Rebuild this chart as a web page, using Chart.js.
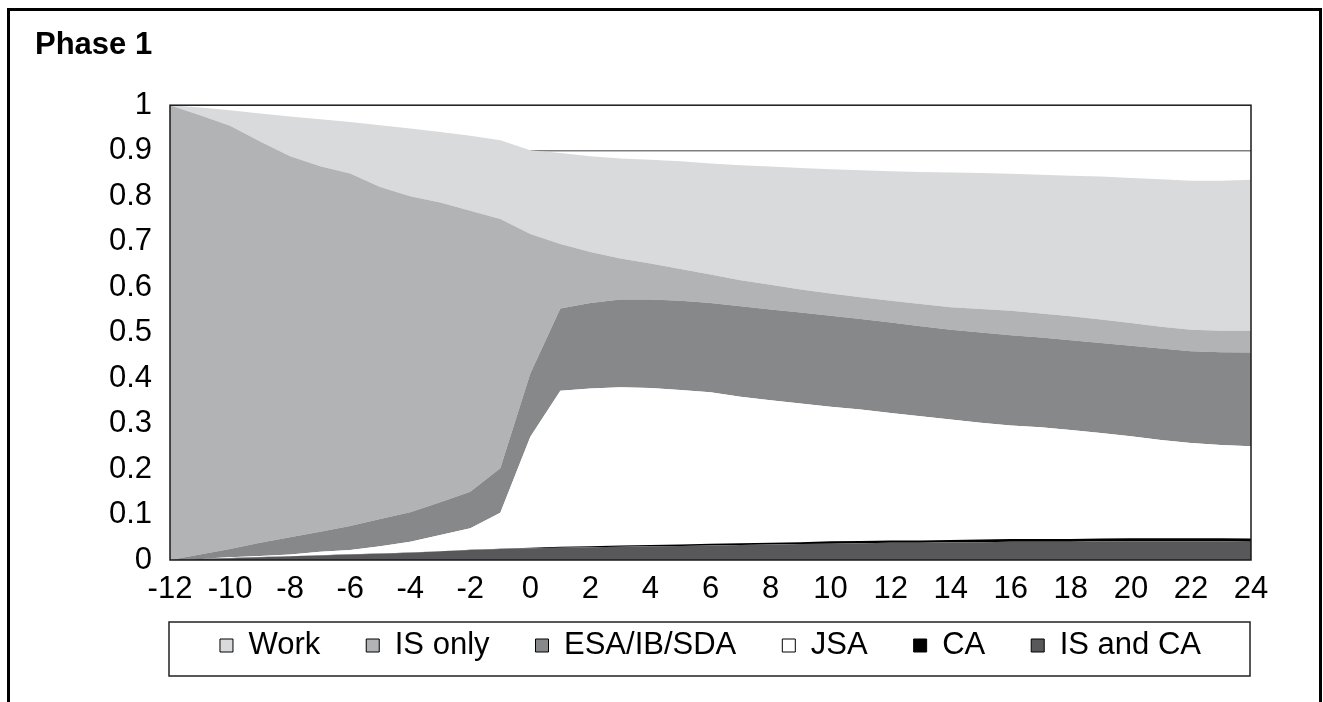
<!DOCTYPE html>
<html>
<head>
<meta charset="utf-8">
<script src="https://cdn.jsdelivr.net/npm/chart.js@4.4.1/dist/chart.umd.min.js"></script>
<style>
  body { margin: 0; background: #fff; overflow: hidden; }
  #frame {
    position: absolute; left: 7px; top: 8px; width: 1315px; height: 740px;
    border: 3px solid #000; box-sizing: border-box;
  }
  #myChart { position: absolute; left: 0; top: 0; }
</style>
</head>
<body>
<div id="frame"></div>
<canvas id="myChart" width="1323" height="702"></canvas>
<script>
// months relative to start of claim
const xLabels = [-12, -11, -10, -9, -8, -7, -6, -5, -4, -3, -2, -1, 0, 1, 2, 3, 4, 5, 6, 7, 8, 9, 10, 11, 12, 13, 14, 15, 16, 17, 18, 19, 20, 21, 22, 23, 24];
const yTicks = [0, 0.1, 0.2, 0.3, 0.4, 0.5, 0.6, 0.7, 0.8, 0.9, 1];

// shares per status (stacked, bottom first)
const isAndCa = [0, 0.002, 0.004, 0.006, 0.008, 0.010, 0.012, 0.014, 0.016, 0.019, 0.022, 0.024,
  0.026, 0.027, 0.028, 0.029, 0.030, 0.031, 0.032, 0.033, 0.034, 0.035, 0.036, 0.037, 0.038,
  0.038, 0.039, 0.039, 0.040, 0.040, 0.040, 0.041, 0.041, 0.041, 0.041, 0.041, 0.040];
const ca = [0, 0.0005, 0.0005, 0.0005, 0.0005, 0.0005, 0.0005, 0.0005, 0.0005, 0.0005, 0.0005, 0.0005,
  0.001, 0.002, 0.002, 0.003, 0.003, 0.003, 0.004, 0.004, 0.004, 0.004, 0.005, 0.005, 0.005,
  0.005, 0.005, 0.006, 0.006, 0.006, 0.006, 0.006, 0.007, 0.007, 0.007, 0.007, 0.007];
const jsa = [0, 0.0005, 0.0015, 0.0025, 0.0035, 0.0075, 0.0095, 0.0155, 0.0235, 0.0355, 0.0475, 0.0795,
  0.244, 0.343, 0.347, 0.348, 0.345, 0.340, 0.333, 0.322, 0.313, 0.305, 0.296, 0.289, 0.280,
  0.273, 0.265, 0.257, 0.250, 0.246, 0.240, 0.232, 0.224, 0.216, 0.209, 0.205, 0.203];
const esa = [0, 0.009, 0.018, 0.029, 0.038, 0.044, 0.053, 0.060, 0.065, 0.072, 0.080, 0.098,
  0.139, 0.181, 0.188, 0.193, 0.195, 0.196, 0.196, 0.199, 0.200, 0.200, 0.200, 0.199, 0.199,
  0.198, 0.197, 0.198, 0.198, 0.197, 0.197, 0.198, 0.199, 0.201, 0.202, 0.204, 0.206];
const isOnly = [1.000, 0.966, 0.931, 0.882, 0.838, 0.804, 0.775, 0.730, 0.695, 0.659, 0.618, 0.548,
  0.307, 0.142, 0.112, 0.090, 0.079, 0.070, 0.063, 0.057, 0.054, 0.051, 0.049, 0.048, 0.048,
  0.049, 0.050, 0.052, 0.054, 0.053, 0.053, 0.052, 0.050, 0.048, 0.047, 0.047, 0.048];
const work = [0, 0.017, 0.034, 0.062, 0.087, 0.103, 0.113, 0.136, 0.149, 0.155, 0.165, 0.173,
  0.184, 0.200, 0.211, 0.220, 0.228, 0.237, 0.244, 0.253, 0.260, 0.267, 0.273, 0.279, 0.285,
  0.290, 0.296, 0.299, 0.301, 0.305, 0.309, 0.314, 0.319, 0.324, 0.328, 0.330, 0.332];
// thin reference line from month 0
const refLine = [null, null, null, null, null, null, null, null, null, null, null, null,
  0.9, 0.9, 0.9, 0.9, 0.9, 0.9, 0.9, 0.9, 0.9, 0.9, 0.9, 0.9, 0.9,
  0.9, 0.9, 0.9, 0.9, 0.9, 0.9, 0.9, 0.9, 0.9, 0.9, 0.9, 0.9];

Chart.defaults.font.family = "'Liberation Sans', Arial, sans-serif";
Chart.defaults.color = "#000";

function area(label, data, color, fill) {
  return {
    label: label,
    data: data,
    backgroundColor: color,
    borderColor: color,
    borderWidth: 0,
    pointRadius: 0,
    tension: 0,
    fill: fill,
    stack: "main",
  };
}

// frame around the plot area and around the legend
const boxes = {
  id: "boxes",
  afterDatasetsDraw(chart) {
    const { ctx, chartArea } = chart;
    ctx.save();
    ctx.strokeStyle = "#1a1a1a";
    ctx.lineWidth = 1.5;
    ctx.strokeRect(chartArea.left, chartArea.top, chartArea.right - chartArea.left, chartArea.bottom - chartArea.top);
    ctx.restore();
  },
  afterDraw(chart) {
    const { ctx, chartArea, legend } = chart;
    ctx.save();
    ctx.strokeStyle = "#222";
    ctx.lineWidth = 1.5;
    ctx.strokeRect(chartArea.left - 1, legend.top + 38, chartArea.right - chartArea.left, 54);
    ctx.restore();
  },
};

const ctx = document.getElementById("myChart").getContext("2d");
const myChart = new Chart(ctx, {
  type: "line",
  data: {
    labels: xLabels,
    datasets: [
      area("IS and CA", isAndCa, "#58585a", "origin"),
      area("CA", ca, "#000000", "-1"),
      area("JSA", jsa, "#ffffff", "-1"),
      area("ESA/IB/SDA", esa, "#87888a", "-1"),
      area("IS only", isOnly, "#b2b3b5", "-1"),
      area("Work", work, "#d9dadc", "-1"),
      {
        label: "ref",
        data: refLine,
        borderColor: "#7f7f7f",
        borderWidth: 1.5,
        pointRadius: 0,
        fill: false,
        stack: "ref",
      },
    ],
  },
  options: {
    responsive: false,
    animation: false,
    devicePixelRatio: 1,
    layout: { padding: { left: 35, right: 72, top: 27, bottom: 31 } },
    scales: {
      x: {
        grid: { display: false, drawTicks: false },
        border: { display: false },
        ticks: {
          autoSkip: false,
          maxRotation: 0,
          padding: 11,
          font: { size: 31 },
          callback: (val, i) => (xLabels[i] % 2 === 0 ? String(xLabels[i]) : ""),
        },
        afterFit: (scale) => {
          // keep the axis short so the legend sits close, but do not clip its labels
          scale.height = 24;
          scale._computeLabelArea = () => undefined;
        },
      },
      y: {
        stacked: true,
        min: 0,
        max: 1,
        grid: { display: false, drawTicks: false },
        border: { display: false },
        afterBuildTicks: (scale) => {
          scale.ticks = yTicks.map((v) => ({ value: v }));
        },
        ticks: {
          autoSkip: false,
          padding: 18,
          font: { size: 31 },
          callback: (val) => String(Math.round(val * 10) / 10),
        },
        afterFit: (scale) => { scale.width = 135; },
      },
    },
    plugins: {
      title: {
        display: true,
        text: "Phase 1",
        align: "start",
        font: { size: 31, weight: "bold" },
        padding: { top: 0, bottom: 41 },
      },
      legend: {
        position: "bottom",
        fullSize: false,
        reverse: true,
        labels: {
          boxWidth: 13,
          boxHeight: 13,
          padding: 46,
          font: { size: 31 },
          filter: (item) => item.text !== "ref",
          generateLabels: (chart) => {
            const items = Chart.defaults.plugins.legend.labels.generateLabels(chart);
            items.forEach((item) => {
              item.strokeStyle = "#000";
              item.lineWidth = 1;
            });
            return items;
          },
        },
      },
      tooltip: { enabled: false },
    },
  },
  plugins: [boxes],
});
</script>
</body>
</html>
